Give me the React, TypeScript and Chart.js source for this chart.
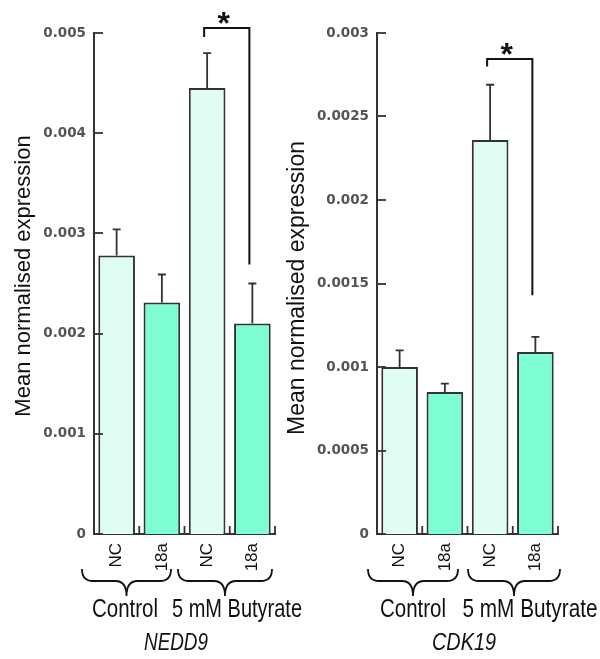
import React, { useEffect, useRef } from 'react';
import { Chart, registerables } from 'chart.js';

Chart.register(...registerables);

// ---------- data ----------
const categories = ['NC', '18a', 'NC', '18a'];
const groupLabels = ['Control', '5 mM Butyrate'];
const yTitle = 'Mean normalised expression';

const nedd9Mean = [0.00278, 0.00231, 0.00445, 0.0021];
const nedd9Err = [0.00026, 0.00028, 0.00035, 0.0004];
const nedd9Ticks = [0, 0.001, 0.002, 0.003, 0.004, 0.005];
const nedd9TickLabels = ['0', '0.001', '0.002', '0.003', '0.004', '0.005'];
const nedd9Bracket = [0.00505, 0.00496, 0.00269]; // top, left end, right end

const cdk19Mean = [0.001, 0.00085, 0.00236, 0.00109];
const cdk19Err = [0.0001, 0.00005, 0.00033, 0.00009];
const cdk19Ticks = [0, 0.0005, 0.001, 0.0015, 0.002, 0.0025, 0.003];
const cdk19TickLabels = ['0', '0.0005', '0.001', '0.0015', '0.002', '0.0025', '0.003'];
const cdk19Bracket = [0.002844, 0.0028, 0.00143];

// ---------- styles ----------
const LIGHT = '#E0FDF4';
const DARK = '#7EFCD2';
const barColors = [LIGHT, DARK, LIGHT, DARK];
const SANS = '"Liberation Sans", Arial, sans-serif';

type PanelCfg = {
  gene: string;
  mean: number[];
  err: number[];
  ticks: number[];
  tickLabels: string[];
  bracket: number[];
  left: number;
  width: number;
  titleX: number;
  titleY: number;
  titleSize: number;
  braces: number[][];
  groupX: number[];
  groupW: number[];
  geneX: number;
};

function Panel(p: PanelCfg) {
  const ref = useRef<HTMLCanvasElement>(null);
  useEffect(() => {
    const canvas = ref.current!;
    const annot = {
      id: 'annot',
      afterDraw(chart: any) {
        const ctx = chart.ctx as CanvasRenderingContext2D;
        const xs = chart.scales.x;
        const ys = chart.scales.y;
        const area = chart.chartArea;
        ctx.save();
        // inward y ticks
        ctx.strokeStyle = '#333';
        ctx.lineWidth = 1.8;
        p.ticks.forEach((v) => {
          const y = Math.round(ys.getPixelForValue(v));
          ctx.beginPath();
          ctx.moveTo(area.left, y);
          ctx.lineTo(area.left + 9, y);
          ctx.stroke();
        });
        // upward x ticks at category boundaries
        for (let i = 0; i < categories.length; i++) {
          const x =
            i < categories.length - 1
              ? (xs.getPixelForValue(i) + xs.getPixelForValue(i + 1)) / 2
              : area.right;
          ctx.beginPath();
          ctx.moveTo(x, area.bottom);
          ctx.lineTo(x, area.bottom - 8);
          ctx.stroke();
        }
        // error bars
        ctx.strokeStyle = '#333';
        ctx.lineWidth = 1.8;
        p.mean.forEach((m, i) => {
          const x = xs.getPixelForValue(i);
          const y0 = ys.getPixelForValue(m);
          const y1 = ys.getPixelForValue(m + p.err[i]);
          ctx.beginPath();
          ctx.moveTo(x, y0);
          ctx.lineTo(x, y1);
          ctx.moveTo(x - 4, y1);
          ctx.lineTo(x + 4, y1);
          ctx.stroke();
        });
        // significance bracket
        const bx1 = xs.getPixelForValue(2) - 3;
        const bx2 = xs.getPixelForValue(3) - 3;
        const bTop = ys.getPixelForValue(p.bracket[0]);
        ctx.strokeStyle = '#111';
        ctx.lineWidth = 2;
        ctx.beginPath();
        ctx.moveTo(bx1, ys.getPixelForValue(p.bracket[1]));
        ctx.lineTo(bx1, bTop);
        ctx.lineTo(bx2, bTop);
        ctx.lineTo(bx2, ys.getPixelForValue(p.bracket[2]));
        ctx.stroke();
        ctx.fillStyle = '#111';
        ctx.font = `bold 32px ${SANS}`;
        ctx.textAlign = 'center';
        ctx.textBaseline = 'alphabetic';
        ctx.fillText('*', (bx1 + bx2) / 2 - 3, bTop + 6);
        // braces
        ctx.lineWidth = 1.8;
        p.braces.forEach(([x1, x2]) => {
          const xm = (x1 + x2) / 2;
          const yTop = 569;
          const yMid = 581;
          const yTip = 596;
          const r = 11;
          ctx.beginPath();
          ctx.moveTo(x1, yTop);
          ctx.quadraticCurveTo(x1, yMid, x1 + r, yMid);
          ctx.lineTo(xm - r, yMid);
          ctx.quadraticCurveTo(xm, yMid, xm, yTip);
          ctx.quadraticCurveTo(xm, yMid, xm + r, yMid);
          ctx.lineTo(x2 - r, yMid);
          ctx.quadraticCurveTo(x2, yMid, x2, yTop);
          ctx.stroke();
        });
        // group labels
        ctx.font = `25px ${SANS}`;
        ctx.textAlign = 'center';
        groupLabels.forEach((g, i) => {
          ctx.fillText(g, p.groupX[i], 617, p.groupW[i]);
        });
        // gene
        ctx.font = `italic 23px ${SANS}`;
        ctx.fillText(p.gene, p.geneX, 650, 64);
        // y title
        ctx.translate(p.titleX, p.titleY);
        ctx.rotate(-Math.PI / 2);
        ctx.font = `${p.titleSize}px ${SANS}`;
        ctx.textBaseline = 'middle';
        ctx.fillText(yTitle, 0, 0);
        ctx.restore();
      },
    };

    const chart = new Chart(canvas, {
      type: 'bar',
      data: {
        labels: categories,
        datasets: [
          {
            data: p.mean,
            backgroundColor: barColors,
            borderColor: '#333',
            borderWidth: 2,
            barPercentage: 0.81,
            categoryPercentage: 1,
          },
        ],
      },
      options: {
        animation: false,
        responsive: false,
        events: [],
        layout: { padding: { top: 33, left: 0, right: p.width - 275, bottom: 0 } },
        plugins: { legend: { display: false }, tooltip: { enabled: false } },
        scales: {
          x: {
            type: 'category',
            afterFit: (s: any) => {
              s.height = 125;
            },
            ticks: {
              minRotation: 90,
              maxRotation: 90,
              autoSkip: false,
              padding: 9,
              color: '#111',
              font: { family: SANS, size: 17 },
            },
            grid: { display: false, drawTicks: false },
            border: { display: true, color: '#333', width: 2 },
          },
          y: {
            min: 0,
            max: p.ticks[p.ticks.length - 1],
            afterFit: (s: any) => {
              s.width = 94;
            },
            afterBuildTicks: (s: any) => {
              s.ticks = p.ticks.map((v) => ({ value: v }));
            },
            ticks: {
              callback: (_v: any, i: number) => p.tickLabels[i],
              color: '#555',
              padding: 8,
              font: { family: '"DejaVu Sans", sans-serif', size: 13.5, weight: 'bold' },
            },
            grid: { display: false, drawTicks: false },
            border: { display: true, color: '#333', width: 2 },
          },
        },
      },
      plugins: [annot],
    } as any);
    return () => chart.destroy();
  }, []);
  return (
    <canvas
      ref={ref}
      width={p.width}
      height={659}
      style={{ position: 'absolute', left: p.left, top: 0, width: p.width, height: 659 }}
    />
  );
}

export default function App() {
  return (
    <div style={{ position: 'absolute', left: 0, top: 0, width: 600, height: 659, background: '#fff' }}>
      <Panel
        gene="NEDD9"
        mean={nedd9Mean}
        err={nedd9Err}
        ticks={nedd9Ticks}
        tickLabels={nedd9TickLabels}
        bracket={nedd9Bracket}
        left={0}
        width={310}
        titleX={24}
        titleY={276}
        titleSize={22}
        braces={[
          [82, 171],
          [178, 272],
        ]}
        groupX={[125, 237]}
        groupW={[66, 130]}
        geneX={176}
      />
      <Panel
        gene="CDK19"
        mean={cdk19Mean}
        err={cdk19Err}
        ticks={cdk19Ticks}
        tickLabels={cdk19TickLabels}
        bracket={cdk19Bracket}
        left={283}
        width={317}
        titleX={15}
        titleY={288}
        titleSize={23}
        braces={[
          [85, 175],
          [185, 277],
        ]}
        groupX={[130, 247]}
        groupW={[66, 135]}
        geneX={181}
      />
    </div>
  );
}
